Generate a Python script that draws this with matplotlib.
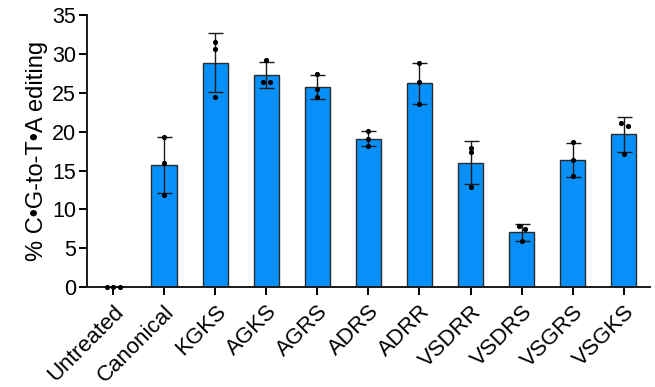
import matplotlib
matplotlib.use("Agg")
import matplotlib.pyplot as plt
import numpy as np

plt.rcParams["font.family"] = ["Liberation Sans", "DejaVu Sans"]

# Groups and values
groups = ["Untreated", "Canonical", "KGKS", "AGKS", "AGRS", "ADRS",
          "ADRR", "VSDRR", "VSDRS", "VSGRS", "VSGKS"]
means = [0.05, 15.7, 28.9, 27.3, 25.8, 19.1, 26.2, 16.0, 7.05, 16.4, 19.65]
sds = [0.03, 3.65, 3.8, 1.7, 1.55, 1.0, 2.6, 2.75, 1.05, 2.2, 2.2]
reps = [
    [0.05, 0.05, 0.05],
    [16.0, 11.85, 19.35],
    [31.6, 30.6, 24.5],
    [29.25, 26.4, 26.4],
    [27.45, 25.55, 24.4],
    [20.1, 19.1, 18.2],
    [28.85, 26.35, 23.6],
    [17.95, 17.4, 12.9],
    [7.85, 7.45, 5.95],
    [18.65, 16.35, 14.3],
    [21.15, 20.75, 17.15],
]
# small horizontal spread of replicate dots (x units)
spread = [
    [-0.13, 0.0, 0.13],
    [0, 0, 0], [0, 0, 0],
    [0, -0.07, 0.07],
    [0, 0, 0], [0, 0, 0], [0, 0, 0], [0, 0, 0],
    [-0.06, 0.07, 0],
    [0, 0, 0],
    [-0.05, 0.08, 0],
]

fig = plt.figure(figsize=(6.55, 3.87), dpi=100)
ax = fig.add_axes([0.133, 0.258, 0.859, 0.703])

x = np.arange(len(groups))
ax.bar(x, means, width=0.5, color="#0791f8", edgecolor="#2b2b2b", linewidth=1.0, zorder=2)
ax.errorbar(x, means, yerr=sds, fmt="none", ecolor="#1a1a1a", elinewidth=1.0,
            capsize=5.4, capthick=1.0, zorder=3)

for i, vals in enumerate(reps):
    ax.plot(x[i] + np.array(spread[i]), vals, "o", color="black", markersize=2.7,
            zorder=4, clip_on=False)

ax.set_xlim(-0.51, 10.51)
ax.set_ylim(0, 35)
ax.set_yticks(np.arange(0, 36, 5))
ax.set_xticks(x)
ax.set_xticklabels(groups, rotation=45, ha="right", rotation_mode="anchor", fontsize=16)
ax.tick_params(axis="y", labelsize=15.5, length=6, width=1.4, pad=2)
ax.tick_params(axis="x", length=6, width=1.4, pad=4)
ax.set_ylabel("% C•G-to-T•A editing", fontsize=17, labelpad=3)

for side in ["top", "right"]:
    ax.spines[side].set_visible(False)
for side in ["left", "bottom"]:
    ax.spines[side].set_linewidth(1.4)
    ax.spines[side].set_color("#1a1a1a")

fig.savefig("out.png", dpi=100)
